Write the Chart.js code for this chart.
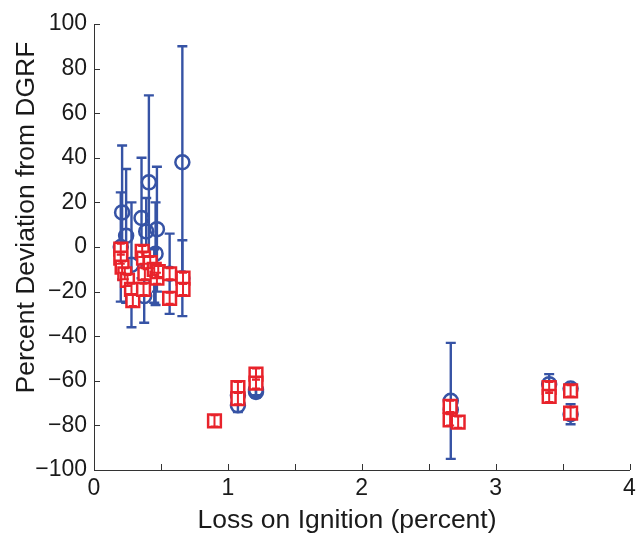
<!DOCTYPE html>
<html>
<head>
<meta charset="utf-8">
<script src="https://cdn.jsdelivr.net/npm/chart.js@4.4.1/dist/chart.umd.min.js"></script>
<style>
    html, body { margin: 0; padding: 0; background: #fff; }
    #wrap { width: 641px; height: 537px; }
</style>
</head>
<body>
<div id="wrap"><canvas id="chart" width="641" height="537"></canvas></div>
<script>
// Blue circles: loss on ignition, deviation, error (+/-)
const blueLoi = [0.21, 0.24, 0.20, 0.28, 0.355, 0.375, 0.41, 0.39, 0.47, 0.46, 0.565, 0.66, 0.66, 0.45,
                 1.075, 1.075, 1.21, 1.21, 2.665, 2.665, 3.40, 3.56, 3.56];
const blueDev = [15.5, 5, 0, -8, 13, -22, 29, 7, 8, -3, -12, 38, -14, -13,
                 -66.5, -71, -64, -65, -69, -73, -61.5, -63.5, -75];
const blueErr = [30, 30, 24.5, 28, 27, 12, 39, 15, 28, 23, 18, 52, 17, 12,
                 3, 3, 2.5, 2.5, 26, 3, 4.5, 2, 4.5];

// Red squares
const redLoi = [0.20, 0.20, 0.21, 0.23, 0.25, 0.28, 0.29, 0.36, 0.37, 0.38, 0.37, 0.42, 0.45, 0.47, 0.48,
                0.565, 0.565, 0.665, 0.665, 0.90, 1.075, 1.075, 1.21, 1.21, 2.66, 2.66, 2.72, 3.40, 3.40, 3.56, 3.56];
const redDev = [-1, -5, -9, -12, -15, -19, -24, -2, -5, -12, -19, -7, -10, -14, -11,
                -12, -23, -14, -19, -78, -63, -68, -57, -61, -71.5, -77.5, -78.5, -63, -67, -64.5, -74.5];
const redErr = 2.5;

const xTicks = [0, 1, 2, 3, 4];

const BLUE = '#3653a5';
const RED = '#e8232b';

function points(xs, ys) {
    return xs.map((x, i) => ({ x: x, y: ys[i] }));
}

// Error bars drawn through the chart's own scales
const errorBars = {
    id: 'errorBars',
    afterDatasetDraw(chart, args) {
        const ds = chart.data.datasets[args.index];
        const xs = chart.scales.x, ys = chart.scales.y;
        const ctx = chart.ctx;
        ctx.save();
        ctx.strokeStyle = ds.borderColor;
        ctx.lineWidth = ds.errWidth;
        ds.data.forEach((p, i) => {
            const e = Array.isArray(ds.err) ? ds.err[i] : ds.err;
            const px = xs.getPixelForValue(p.x);
            const top = ys.getPixelForValue(p.y + e);
            const bot = ys.getPixelForValue(p.y - e);
            const c = ds.capHalf;
            ctx.beginPath();
            ctx.moveTo(px, top); ctx.lineTo(px, bot);
            ctx.moveTo(px - c, top); ctx.lineTo(px + c, top);
            ctx.moveTo(px - c, bot); ctx.lineTo(px + c, bot);
            ctx.stroke();
        });
        ctx.restore();
    }
};

// Inward tick marks like the original figure
const inwardTicks = {
    id: 'inwardTicks',
    afterDraw(chart) {
        const ctx = chart.ctx;
        const { left, bottom } = chart.chartArea;
        ctx.save();
        ctx.strokeStyle = '#333';
        ctx.lineWidth = 1;
        ctx.beginPath();
        chart.scales.y.ticks.forEach(t => {
            const py = Math.round(chart.scales.y.getPixelForValue(t.value)) + 0.5;
            ctx.moveTo(left, py); ctx.lineTo(left + 6, py);
        });
        chart.scales.x.ticks.forEach(t => {
            const px = Math.round(chart.scales.x.getPixelForValue(t.value)) + 0.5;
            ctx.moveTo(px, bottom); ctx.lineTo(px, bottom - 6);
        });
        ctx.stroke();
        ctx.restore();
    }
};

const tickFont = { family: '"Liberation Sans", Arial, sans-serif', size: 23, lineHeight: 1.2 };
const titleFont = { family: '"Liberation Sans", Arial, sans-serif', size: 26.5, lineHeight: 1.2 };

new Chart(document.getElementById('chart'), {
    type: 'scatter',
    data: {
        datasets: [{
            label: 'Red',
            data: points(redLoi, redDev),
            err: redErr,
            errWidth: 2,
            capHalf: 4,
            pointStyle: 'rect',
            pointRadius: 9,
            borderWidth: 2.5,
            borderColor: RED,
            backgroundColor: '#fff',
            order: 0
        }, {
            label: 'Blue',
            data: points(blueLoi, blueDev),
            err: blueErr,
            errWidth: 2.4,
            capHalf: 5,
            pointStyle: 'circle',
            pointRadius: 7,
            borderWidth: 2.5,
            borderColor: BLUE,
            backgroundColor: 'rgba(0,0,0,0)',
            order: 1
        }]
    },
    options: {
        responsive: false,
        animation: false,
        layout: { padding: { left: 0, top: 24, right: 0, bottom: 0 } },
        plugins: {
            legend: { display: false },
            tooltip: { enabled: false }
        },
        scales: {
            x: {
                type: 'linear',
                min: 0,
                max: 4,
                afterFit: s => { s.height = 67; },
                grid: { display: false, drawTicks: false },
                border: { display: true, color: '#333', width: 1 },
                ticks: {
                    stepSize: 0.5,
                    padding: 5,
                    color: '#1a1a1a',
                    font: tickFont,
                    maxRotation: 0,
                    autoSkip: false,
                    callback: v => xTicks.includes(v) ? String(v) : ''
                },
                title: {
                    display: true,
                    // trailing spaces nudge the label left as in the original
                    text: 'Loss on Ignition (percent)    ',
                    color: '#1a1a1a',
                    font: titleFont,
                    padding: { top: 0, bottom: 0 }
                }
            },
            y: {
                min: -100,
                max: 100,
                afterFit: s => { s.width = 94; },
                grid: { display: false, drawTicks: false },
                border: { display: true, color: '#333', width: 1 },
                ticks: {
                    stepSize: 20,
                    padding: 7,
                    color: '#1a1a1a',
                    font: tickFont,
                    callback: v => String(v).replace('-', '\u2212')
                },
                title: {
                    display: true,
                    // leading spaces nudge the label upward as in the original
                    text: '        Percent Deviation from DGRF',
                    color: '#1a1a1a',
                    font: titleFont,
                    padding: { top: 11, bottom: 0 }
                }
            }
        }
    },
    plugins: [errorBars, inwardTicks]
});
</script>
</body>
</html>
